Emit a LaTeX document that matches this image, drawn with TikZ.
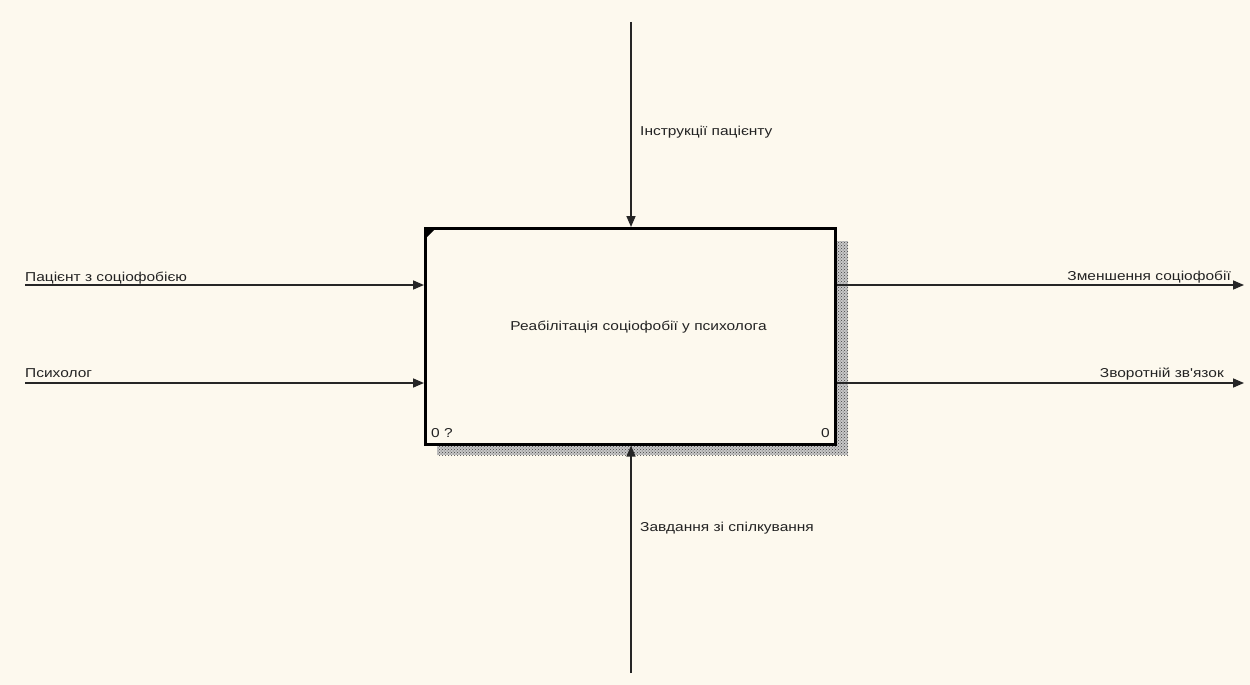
\documentclass[tikz,border=0pt]{standalone}
\usepackage{fontspec}
\newfontfamily\libfont{Liberation Sans}[FakeStretch=1.2]
\usetikzlibrary{arrows.meta,patterns}
\definecolor{bg}{RGB}{253,249,238}
\definecolor{txt}{RGB}{35,35,35}
\begin{document}
\begin{tikzpicture}[x=1pt,y=-1pt,
  lbl/.style={font=\libfont\fontsize{12.9}{15}\selectfont,text=txt,inner sep=0pt},
  arr/.style={line width=1.6pt,draw=black!85,-{Triangle[length=11pt,width=9pt]}},
  shadow/.style={pattern=crosshatch dots,pattern color=black!75,draw=none}]
\fill[bg] (0,0) rectangle (1250,685);
\useasboundingbox (0,0) rectangle (1250,685);
% shadow
\fill[black!22] (834,241) rectangle (848,455);
\fill[black!22] (437,443) rectangle (834,455);
\fill[shadow] (834,241) rectangle (848,455);
\fill[shadow] (437,443) rectangle (834,455);
% box
\node[draw,line width=2.6pt,minimum width=410pt,minimum height=216pt,inner sep=0pt,anchor=north west,fill=bg] (box) at (424,227) {};
\node[lbl] (title) at (638.5,327) {Реабілітація соціофобії у психолога};
\fill[black] (box.north west) -- ++(13,0) -- ++(-13,13) -- cycle;
\node[lbl,anchor=base west] (num) at (431,437) {0 ?};
\node[lbl,anchor=base east] (num2) at (830,437) {0};
% coordinates
\coordinate (i1) at (25,285);
\coordinate (i2) at (25,383);
\coordinate (o1) at (1244,285);
\coordinate (o2) at (1244,383);
\coordinate (c1) at (631,22);
\coordinate (m1) at (631,673);
\draw[arr] (i1) -- (i1 -| box.west);
\draw[arr] (i2) -- (i2 -| box.west);
\draw[arr] (o1 -| box.east) -- (o1);
\draw[arr] (o2 -| box.east) -- (o2);
\draw[arr] (c1) -- (c1 |- box.north);
\draw[arr] (m1) -- (m1 |- box.south);
% labels
\node[lbl,anchor=base west] (l1) at (25,281) {Пацієнт з соціофобією};
\node[lbl,anchor=base west] (l2) at (25,377) {Психолог};
\node[lbl,anchor=base east] (l3) at (1231,280) {Зменшення соціофобії};
\node[lbl,anchor=base east] (l4) at (1224,377) {Зворотній зв'язок};
\node[lbl,anchor=base west] (l5) at (640,135) {Інструкції пацієнту};
\node[lbl,anchor=base west] (l6) at (640,531) {Завдання зі спілкування};
\end{tikzpicture}
\end{document}
